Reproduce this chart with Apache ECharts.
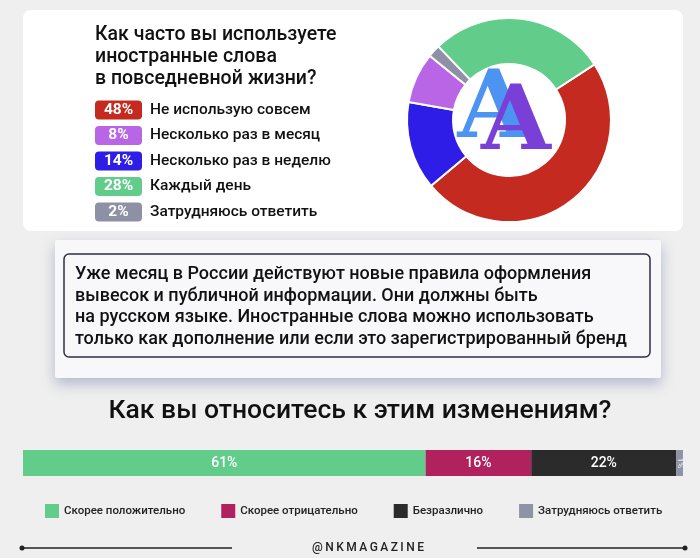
<!DOCTYPE html>
<html>
<head>
<meta charset="utf-8">
<script src="https://cdn.jsdelivr.net/npm/echarts@6/dist/echarts.min.js"></script>
<style>
  html, body { margin: 0; padding: 0; background: #efefef; }
  #chart { width: 700px; height: 558px; }
</style>
</head>
<body>
<div id="chart"></div>
<script>
// Pie: how often foreign words are used (clockwise order in the ring)
var pieNames = ["Не использую совсем", "Несколько раз в неделю", "Несколько раз в месяц", "Затрудняюсь ответить", "Каждый день"];
var pieValues = [48, 14, 8, 2, 28];
var pieColors = ["#c42a1f", "#2e1de6", "#b865e6", "#8e90a5", "#62cc8a"];
// order shown in the left legend
var pieLegendOrder = ["Не использую совсем", "Несколько раз в месяц", "Несколько раз в неделю", "Каждый день", "Затрудняюсь ответить"];

// Stacked bar: attitude to the changes
var barNames = ["Скорее положительно", "Скорее отрицательно", "Безразлично", "Затрудняюсь ответить"];
var barValues = [61, 16, 22, 1];
var barColors = ["#62cc8a", "#b0215e", "#2b2b2b", "#8f93a6"];

var FONT = "Roboto, 'Noto Sans', sans-serif";

var el = document.getElementById("chart");
var chart = echarts.init(el);

// rich styles for the percent badges
var rich = {
  t: { fontFamily: FONT, fontSize: 15.5, fontWeight: 500, color: "#111", padding: [0, 0, 0, 8] }
};
pieNames.forEach(function (n, i) {
  rich["b" + i] = {
    backgroundColor: pieColors[i],
    color: "#fff",
    borderRadius: 4,
    width: 47,
    height: 19,
    lineHeight: 19,
    align: "center",
    fontFamily: FONT,
    fontSize: 15.5,
    fontWeight: "bold"
  };
});

var barSeries = barNames.map(function (n, i) {
  var small = barValues[i] < 3;
  return {
    name: n,
    type: "bar",
    stack: "total",
    barWidth: 26,
    data: [barValues[i]],
    itemStyle: { color: barColors[i] },
    label: {
      show: true,
      position: "inside",
      formatter: "{c}%",
      rotate: small ? -90 : 0,
      fontFamily: FONT,
      fontSize: small ? 8 : 14,
      fontWeight: 500,
      color: small ? "#e8e8ee" : "#fff"
    }
  };
});

var paragraph = [
  "Уже месяц в России действуют новые правила оформления",
  "вывесок и публичной информации. Они должны быть",
  "на русском языке. Иностранные слова можно использовать",
  "только как дополнение или если это зарегистрированный бренд"
].join("\n");

var option = {
  backgroundColor: "#efefef",
  animation: false,
  title: {
    text: "Как часто вы используете\nиностранные слова\nв повседневной жизни?",
    left: 95,
    top: 24,
    padding: 0,
    textStyle: { fontFamily: FONT, fontSize: 19.5, fontWeight: 500, lineHeight: 22, color: "#111" }
  },
  graphic: [
    // top card
    { type: "rect", z: -10, shape: { x: 23, y: 10, width: 660, height: 221, r: 8 }, style: { fill: "#fff" } },
    // info panel
    { type: "rect", z: -10, shape: { x: 55, y: 240, width: 606, height: 138, r: 2 },
      style: { fill: "#f8f8fa", shadowBlur: 14, shadowOffsetY: 6, shadowColor: "rgba(70,80,140,0.35)" } },
    { type: "rect", z: -9, shape: { x: 64, y: 254, width: 586, height: 103, r: 5 },
      style: { fill: "transparent", stroke: "#2c2f45", lineWidth: 1.5 } },
    { type: "text", left: 75, top: 264,
      style: { text: paragraph, font: "500 18px " + FONT, lineHeight: 21.5, fill: "#111" } },
    // question heading
    { type: "text", x: 360, y: 411,
      style: { text: "Как вы относитесь к этим изменениям?", font: "500 26.5px " + FONT, fill: "#111",
        textAlign: "center", textVerticalAlign: "middle" } },
    // logo in the centre of the ring
    { type: "text", x: 494, y: 160, z: 5,
      style: { text: "A", font: "bold 94px 'DejaVu Serif', serif", fill: "#4d93f2",
        textAlign: "center", textVerticalAlign: "bottom" } },
    { type: "text", x: 516, y: 171, z: 6,
      style: { text: "A", font: "bold 90px 'DejaVu Serif', serif", fill: "#7a3fd6",
        textAlign: "center", textVerticalAlign: "bottom" } },
    // footer
    { type: "line", shape: { x1: 22, y1: 548, x2: 232, y2: 548 }, style: { stroke: "#222", lineWidth: 1.5 } },
    { type: "line", shape: { x1: 477, y1: 548, x2: 685, y2: 548 }, style: { stroke: "#222", lineWidth: 1.5 } },
    { type: "circle", shape: { cx: 22, cy: 548, r: 2.5 }, style: { fill: "#222" } },
    { type: "circle", shape: { cx: 685, cy: 548, r: 2.5 }, style: { fill: "#222" } },
    { type: "text", x: 368, y: 548,
      style: { text: "@NKMAGAZINE".split("").join("\u2009"), font: "500 12px " + FONT, fill: "#222",
        textAlign: "center", textVerticalAlign: "middle" } }
  ],
  legend: [
    {
      data: pieLegendOrder,
      orient: "vertical",
      left: 90,
      top: 100.5,
      padding: 0,
      icon: "none",
      itemWidth: 0,
      itemHeight: 19,
      itemGap: 6.5,
      selectedMode: false,
      formatter: function (name) {
        var i = pieNames.indexOf(name);
        return "{b" + i + "|" + pieValues[i] + "%}{t|" + name + "}";
      },
      textStyle: { rich: rich }
    },
    {
      data: barNames,
      orient: "horizontal",
      left: 45,
      top: 504,
      padding: 0,
      icon: "rect",
      itemWidth: 14,
      itemHeight: 14,
      itemGap: 36,
      selectedMode: false,
      textStyle: { fontFamily: FONT, fontSize: 11.5, fontWeight: 500, color: "#222" }
    }
  ],
  grid: { left: 23, right: 17, top: 450, height: 26 },
  xAxis: { type: "value", min: 0, max: 100, show: false },
  yAxis: { type: "category", data: [""], show: false },
  series: [
    {
      name: "Как часто",
      type: "pie",
      center: [509, 120],
      radius: [56, 102],
      startAngle: 33,
      clockwise: true,
      silent: true,
      label: { show: false },
      labelLine: { show: false },
      itemStyle: { borderColor: "#fff", borderWidth: 2 },
      data: pieNames.map(function (n, i) {
        return { name: n, value: pieValues[i], itemStyle: { color: pieColors[i] } };
      })
    }
  ].concat(barSeries)
};

chart.setOption(option);
</script>
</body>
</html>
